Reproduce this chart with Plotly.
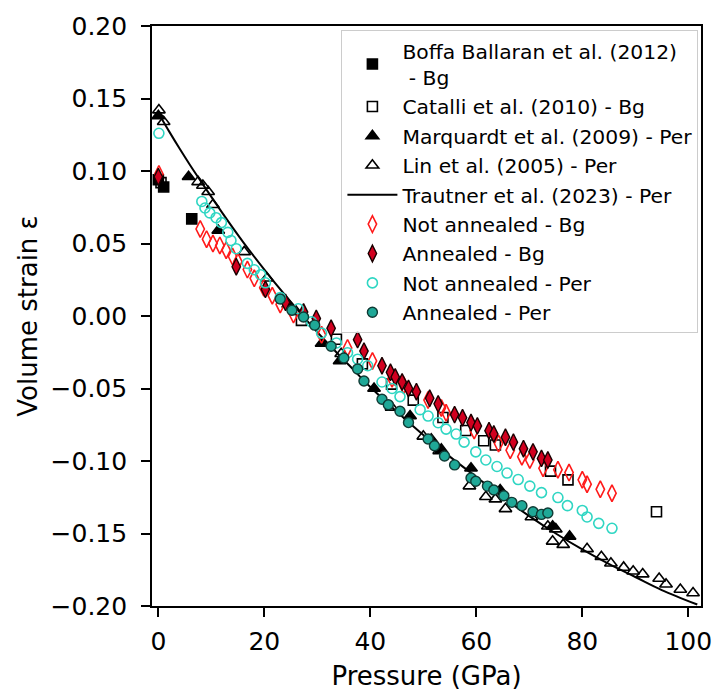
import plotly.graph_objects as go

# ---------------- data ----------------
boffa_p = [0.0, 1.0, 6.3]
boffa_e = [0.094, 0.089, 0.067]

catalli_p = [0.5, 27.0, 33.6, 38.5, 44.0, 48.1, 53.7, 58.0, 61.4, 63.6, 74.0, 77.3, 94.0]
catalli_e = [0.092, -0.003, -0.016, -0.033, -0.047, -0.058, -0.070, -0.079, -0.086, -0.089, -0.107, -0.113, -0.135]

marq_p = [0.0, 5.7, 11.3, 24.5, 30.8, 34.2, 40.7, 47.5, 51.5, 53.4, 59.0, 64.5, 74.4, 77.6]
marq_e = [0.138, 0.096, 0.059, 0.008, -0.019, -0.031, -0.050, -0.069, -0.085, -0.092, -0.105, -0.120, -0.145, -0.152]

lin_p = [0.1, 1.0, 7.5, 8.4, 9.4, 10.3, 16.2, 20.5, 26.0, 34.5, 44.0, 50.0, 53.0, 58.7, 61.8, 63.6,
         65.5, 70.4, 73.5, 75.0, 74.4, 76.4, 80.9, 83.6, 85.4, 87.8, 89.6, 91.4, 94.5, 95.8, 98.5, 100.9]
lin_e = [0.142, 0.134, 0.0925, 0.090, 0.0857, 0.0767, 0.0442, 0.026, 0.003, -0.026, -0.063, -0.083, -0.093,
         -0.1173, -0.1247, -0.1263, -0.133, -0.1386, -0.145, -0.147, -0.1554, -0.1577, -0.1606, -0.166,
         -0.1705, -0.1734, -0.176, -0.178, -0.181, -0.185, -0.1886, -0.191]

trautner_p = [0, 2, 4, 6, 8, 12, 16, 20, 24, 28, 32, 36, 40, 45, 50, 55, 60, 65, 70, 75, 80, 85, 90, 95, 101.7]
trautner_e = [0.140, 0.1275, 0.1155, 0.104, 0.093, 0.0715, 0.051, 0.032, 0.014, -0.003, -0.019, -0.034,
              -0.049, -0.066, -0.082, -0.097, -0.111, -0.125, -0.138, -0.150, -0.161, -0.171, -0.180,
              -0.189, -0.199]

nab_p = [0.1, 7.9, 9.1, 10.3, 11.6, 12.8, 14.0, 15.0, 16.8, 18.1, 19.9, 21.5, 23.0, 25.5, 30.8, 35.7,
         40.4, 44.1, 46.3, 50.9, 53.4, 54.3, 59.6, 64.2, 66.4, 68.6, 70.1, 72.6, 75.4, 77.5, 80.0, 80.9,
         83.4, 85.6]
nab_e = [0.098, 0.060, 0.053, 0.050, 0.0487, 0.0454, 0.041, 0.0375, 0.032, 0.026, 0.0195, 0.014, 0.008,
         0.001, -0.013, -0.022, -0.031, -0.0433, -0.0478, -0.058, -0.0635, -0.0668, -0.079, -0.088,
         -0.0926, -0.097, -0.0993, -0.105, -0.106, -0.108, -0.113, -0.116, -0.1195, -0.1222]

ab_p = [0.0, 14.7, 20.2, 24.0, 27.4, 29.8, 32.6, 37.6, 38.8, 42.2, 43.8, 44.7, 46.0, 47.2, 48.7, 51.2,
        52.8, 55.9, 57.4, 59.0, 60.2, 62.4, 63.3, 65.5, 67.0, 68.9, 70.7, 72.3, 73.5]
ab_e = [0.096, 0.034, 0.0184, 0.0094, 0.0027, -0.0017, -0.0085, -0.0163, -0.0242, -0.0343, -0.0388,
        -0.0421, -0.0455, -0.050, -0.0522, -0.0567, -0.0606, -0.068, -0.0702, -0.0735, -0.0758, -0.0791,
        -0.0814, -0.0836, -0.087, -0.0915, -0.0937, -0.0982, -0.0993]

nap_p = [0.1, 8.2, 8.8, 9.7, 10.9, 11.9, 13.1, 13.7, 14.7, 16.8, 18.1, 19.3, 20.2, 23.0, 26.4, 28.9,
         30.8, 33.6, 35.7, 37.6, 39.5, 42.2, 44.1, 45.6, 49.4, 50.9, 52.8, 54.3, 56.2, 57.7, 59.9, 61.8,
         63.9, 65.8, 67.9, 70.1, 72.3, 75.4, 77.2, 80.0, 80.9, 83.1, 85.6]
nap_e = [0.126, 0.079, 0.0745, 0.0711, 0.0678, 0.0644, 0.0577, 0.0521, 0.0464, 0.0363, 0.0319, 0.0285,
         0.0229, 0.0128, 0.005, -0.004, -0.0118, -0.0186, -0.0253, -0.0298, -0.0343, -0.0455, -0.050,
         -0.0556, -0.0646, -0.069, -0.0736, -0.078, -0.0814, -0.087, -0.0937, -0.0993, -0.1038, -0.1083,
         -0.1128, -0.1173, -0.1218, -0.1252, -0.1308, -0.1341, -0.1386, -0.143, -0.1464]

ap_p = [23.0, 25.2, 27.4, 29.5, 32.6, 35.0, 37.6, 38.8, 42.2, 43.4, 45.6, 47.2, 50.9, 52.1, 54.0, 55.9,
        59.0, 59.9, 62.1, 63.3, 65.2, 66.7, 68.6, 70.7, 72.3, 73.5]
ap_e = [0.0117, 0.004, -0.0007, -0.0063, -0.0209, -0.029, -0.0365, -0.0448, -0.0574, -0.0612, -0.0657,
        -0.0735, -0.0848, -0.0895, -0.0965, -0.1027, -0.1117, -0.114, -0.1173, -0.120, -0.124, -0.1285,
        -0.1308, -0.135, -0.1368, -0.1359]

x_tickvals = [0, 20, 40, 60, 80, 100]
x_ticktext = ["0", "20", "40", "60", "80", "100"]
y_tickvals = [0.20, 0.15, 0.10, 0.05, 0.00, -0.05, -0.10, -0.15, -0.20]
y_ticktext = ["0.20", "0.15", "0.10", "0.05", "0.00", "\u22120.05", "\u22120.10", "\u22120.15", "\u22120.20"]

FONT = "DejaVu Sans, Noto Sans, sans-serif"

fig = go.Figure()

def add_pts(name, px, py, symbol, size, color, fill=None, lw=1.6, group=None):
    fig.add_trace(go.Scatter(
        x=px, y=py, mode="markers", name=name, legendgroup=group or name,
        marker=dict(symbol=symbol, size=size,
                    color=fill if fill is not None else color,
                    line=dict(color=color, width=lw)),
    ))

add_pts("Boffa Ballaran et al. (2012)<br> - Bg", boffa_p, boffa_e, "square", 10, "black", "black", group="g1")
add_pts("Catalli et al. (2010) - Bg", catalli_p, catalli_e, "square-open", 10, "black", group="g2")
add_pts("Marquardt et al. (2009) - Per", marq_p, marq_e, "triangle-up", 11, "black", "black", group="g3")
add_pts("Lin et al. (2005) - Per", lin_p, lin_e, "triangle-up-open", 11, "black", group="g4")
fig.add_trace(go.Scatter(x=trautner_p, y=trautner_e, mode="lines", name="Trautner et al. (2023) - Per",
                         legendgroup="g5", line=dict(color="black", width=2, shape="spline")))
add_pts("Not annealed - Bg", nab_p, nab_e, "diamond-tall-open", 12, "#ff1a1a", group="g6")
add_pts("Annealed - Bg", ab_p, ab_e, "diamond-tall", 12, "#1a0000", "#d1001f", lw=1.4, group="g7")
add_pts("Not annealed - Per", nap_p, nap_e, "circle-open", 10, "#2fd6c3", group="g8")
add_pts("Annealed - Per", ap_p, ap_e, "circle", 10, "#0f3a34", "#1fa897", lw=1.4, group="g9")

axis_common = dict(showgrid=False, zeroline=False, showline=True, linecolor="black", linewidth=1.6,
                   mirror=True, ticks="outside", ticklen=9, tickwidth=1.6, tickcolor="black",
                   ticklabeloverflow="allow",
                   tickfont=dict(family=FONT, size=25, color="black"))

fig.update_layout(
    width=724, height=698,
    margin=dict(l=152, r=13, t=24, b=80),
    paper_bgcolor="white", plot_bgcolor="white",
    font=dict(family=FONT, color="black"),
    xaxis=dict(range=[-1.2, 102.4], tickvals=x_tickvals, ticktext=x_ticktext, ticklabelstandoff=3,
               title=dict(text="Pressure (GPa)", font=dict(family=FONT, size=26), standoff=12),
               **axis_common),
    yaxis=dict(range=[-0.2, 0.2], tickvals=y_tickvals, ticktext=y_ticktext, ticklabelstandoff=9,
               title=dict(text="Volume strain \u03b5", font=dict(family=FONT, size=26), standoff=5),
               **axis_common),
    legend=dict(x=0.345, y=0.993, xanchor="left", yanchor="top",
                bgcolor="rgba(255,255,255,0.85)", bordercolor="#cccccc", borderwidth=1,
                font=dict(family=FONT, size=20.3, color="black"),
                itemwidth=50, tracegroupgap=4, traceorder="normal"),
    showlegend=True,
)

fig.write_html(
    "out.html",
    config={"displayModeBar": False},
    post_script="document.body.style.margin='0';document.body.style.padding='0';"
                "document.body.style.overflow='hidden';"
                "document.documentElement.style.overflow='hidden';",
)
